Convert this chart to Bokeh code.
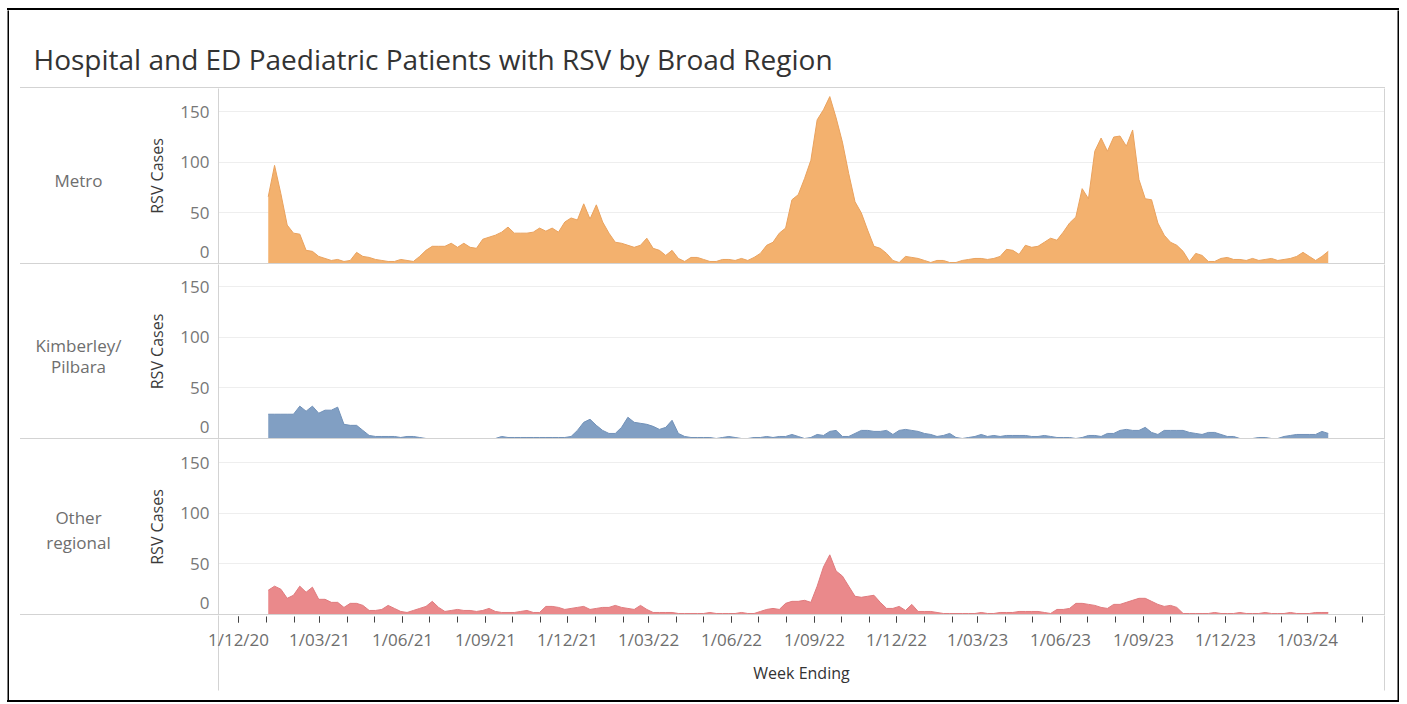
import pandas as pd
from bokeh.plotting import figure
from bokeh.layouts import column, row
from bokeh.models import (Range1d, FixedTicker, DatetimeTickFormatter, Label, LinearAxis,
                          Spacer, Div)
from bokeh.embed import file_html
from bokeh.resources import INLINE

# ---------------- data (weekly RSV cases) ----------------
first_week_ending = "2021-01-03"

metro = [
    66, 97, 69, 38, 30, 29, 13, 12, 7, 5,
    3, 4, 2, 3, 11, 7, 6, 4, 3, 2,
    2, 4, 3, 2, 7, 13, 17, 17, 17, 20,
    16, 20, 16, 15, 24, 26, 28, 31, 36, 30,
    30, 30, 31, 35, 32, 35, 31, 41, 45, 43,
    59, 44, 58, 41, 30, 21, 20, 18, 16, 18,
    25, 15, 13, 8, 13, 5, 2, 6, 6, 4,
    2, 2, 4, 4, 3, 5, 3, 6, 10, 18,
    21, 30, 35, 63, 68, 84, 102, 142, 152, 165,
    144, 120, 89, 61, 50, 33, 17, 15, 10, 3,
    1, 7, 6, 5, 3, 1, 3, 3, 1, 1,
    3, 4, 5, 5, 4, 5, 7, 14, 13, 9,
    18, 16, 17, 21, 25, 23, 31, 40, 46, 74,
    64, 111, 124, 111, 125, 126, 116, 132, 83, 64,
    63, 40, 28, 21, 18, 12, 2, 10, 8, 2,
    2, 5, 6, 4, 4, 3, 5, 3, 4, 5,
    3, 4, 5, 7, 11, 7, 3, 7, 12,
]

kimberley_pilbara = [
    24, 24, 24, 24, 24, 32, 27, 32, 25, 28,
    28, 31, 14, 13, 13, 8, 3, 2, 2, 2,
    2, 1, 2, 2, 1, 0, 0, 0, 0, 0,
    0, 0, 0, 0, 0, 0, 0, 2, 1, 1,
    1, 1, 1, 1, 1, 1, 1, 1, 2, 8,
    16, 19, 13, 8, 5, 5, 11, 21, 16, 15,
    14, 12, 9, 11, 18, 5, 2, 1, 1, 1,
    1, 0, 1, 2, 1, 0, 0, 1, 1, 2,
    1, 2, 2, 4, 2, 0, 1, 4, 3, 7,
    8, 2, 2, 5, 8, 8, 7, 7, 8, 4,
    8, 9, 8, 7, 5, 4, 2, 3, 5, 1,
    0, 1, 2, 4, 2, 3, 2, 3, 3, 3,
    3, 2, 2, 3, 2, 1, 1, 1, 0, 1,
    3, 3, 2, 5, 5, 8, 9, 8, 8, 11,
    6, 4, 8, 8, 8, 8, 6, 5, 4, 6,
    6, 4, 2, 2, 0, 0, 0, 1, 1, 0,
    0, 2, 3, 4, 4, 4, 4, 7, 5,
]

other_regional = [
    24, 28, 25, 16, 19, 28, 22, 27, 15, 15,
    12, 12, 7, 11, 11, 9, 4, 4, 5, 9,
    6, 3, 2, 4, 6, 8, 13, 7, 3, 4,
    5, 4, 4, 3, 4, 6, 3, 2, 2, 2,
    3, 4, 2, 2, 8, 8, 7, 5, 6, 7,
    8, 5, 6, 7, 7, 9, 7, 6, 5, 9,
    5, 2, 2, 2, 2, 1, 1, 1, 1, 1,
    2, 1, 1, 1, 1, 2, 1, 1, 3, 5,
    6, 5, 11, 13, 13, 14, 12, 28, 47, 59,
    43, 38, 28, 18, 17, 18, 19, 12, 6, 6,
    8, 4, 10, 3, 3, 3, 2, 1, 1, 1,
    1, 1, 1, 2, 1, 1, 2, 2, 2, 3,
    3, 3, 3, 2, 1, 5, 5, 6, 11, 11,
    10, 9, 7, 6, 10, 10, 12, 14, 16, 16,
    13, 10, 8, 9, 7, 1, 1, 1, 1, 1,
    2, 1, 1, 1, 2, 1, 1, 1, 2, 1,
    1, 1, 2, 1, 1, 1, 2, 2, 2,
]

series = [metro, kimberley_pilbara, other_regional]
region_names = [["Metro"], ["Kimberley/", "Pilbara"], ["Other", "regional"]]
region_fill = ["#F3B16E", "#819FC3", "#EA898B"]
region_edge = ["#E9A25E", "#7191B8", "#E07B7E"]
y_ticks = [0, 50, 100, 150]
y_tick_labels = ["0", "50", "100", "150"]
quarter_ticks = ["2020-12-01", "2021-03-01", "2021-06-01", "2021-09-01", "2021-12-01",
                 "2022-03-01", "2022-06-01", "2022-09-01", "2022-12-01", "2023-03-01",
                 "2023-06-01", "2023-09-01", "2023-12-01", "2024-03-01"]
month_ticks = list(pd.date_range("2020-12-01", "2024-05-01", freq="MS"))
title_text = "Hospital and ED Paediatric Patients with RSV by Broad Region"
x_title = "Week Ending"
y_title = "RSV Cases"

weeks = pd.date_range(first_week_ending, periods=len(metro), freq="7D")

# ---------------- layout constants (page pixels) ----------------
FONT = "Open Sans"
GREY = "#d3d3d3"
CONTENT_W = 1388          # page x 9 .. 1397
HEADER_W = 131            # page x 9 .. 140
PANEL_W = CONTENT_W - HEADER_W
PANEL_LEFT = 78           # frame left at page x 218
PANEL_RIGHT = 13          # frame right at page x 1384
PX_PER_UNIT = 175 / 173
ROW_H = [175, 174, 175]
ROW_TOP = [88, 264, 439]
LABEL_Y = [[180], [345, 366], [517, 542]]
LABEL_X = 78
ZERO_LABEL_SHIFT = 11     # Tableau lifts the "0" label just above the pane border
X_START = pd.Timestamp("2020-11-08 19:30")
X_END = pd.Timestamp("2024-05-25 10:00")


def ms(t):
    return pd.Timestamp(t).value / 1e6


def no_align(f):
    if "frame_align" in f.properties():
        f.frame_align = False
    return f


def strip(w, h, color):
    return Div(text="", width=w, height=h, margin=(0, 0, 0, 0),
               styles={"background-color": color})


def bar(w, h, color):
    f = figure(width=w, height=h, x_range=Range1d(0, 1), y_range=Range1d(0, 1),
               x_axis_location=None, y_axis_location=None, min_border=0,
               toolbar_location=None, output_backend="svg",
               background_fill_color=color, border_fill_color=color,
               outline_line_color=None)
    f.grid.visible = False
    return no_align(f)


def pixel_fig(w, h):
    f = figure(width=w, height=h, x_range=Range1d(0, w), y_range=Range1d(0, h),
               x_axis_location=None, y_axis_location=None, min_border=0,
               toolbar_location=None, output_backend="svg",
               background_fill_color="white", border_fill_color="white",
               outline_line_color=None)
    f.grid.visible = False
    return no_align(f)


# ---------------- title (frame geometry identical to the x-axis strip) ----------------
p0 = figure(width=CONTENT_W, height=77, x_range=Range1d(0, 1), y_range=Range1d(0, 1),
            x_axis_location=None, y_axis_location=None,
            min_border_left=PANEL_LEFT + HEADER_W, min_border_right=PANEL_RIGHT,
            min_border_top=72, min_border_bottom=0,
            toolbar_location=None, output_backend="svg",
            background_fill_color="white", border_fill_color="white",
            outline_line_color=None, title=title_text)
p0.grid.visible = False
p0.title.align = "left"
p0.title.offset = 33 - 218
p0.title.standoff = 10
p0.title.text_font = FONT
p0.title.text_font_size = "28px"
p0.title.text_font_style = "normal"
p0.title.text_color = "#333333"
no_align(p0)


def header(k):
    h = pixel_fig(HEADER_W, ROW_H[k])
    for txt, py in zip(region_names[k], LABEL_Y[k]):
        h.add_layout(Label(x=LABEL_X - 9, y=ROW_H[k] - (py - ROW_TOP[k]), text=txt,
                           text_align="center", text_baseline="middle",
                           text_font=FONT, text_font_size="17px", text_color="#6e6e6e"))
    return h


def panel(k):
    h = ROW_H[k]
    p = figure(width=PANEL_W, height=h,
               x_range=Range1d(ms(X_START), ms(X_END)), y_range=Range1d(0, h / PX_PER_UNIT),
               x_axis_type="datetime", x_axis_location=None,
               output_backend="svg", toolbar_location=None,
               min_border_left=PANEL_LEFT, min_border_right=PANEL_RIGHT,
               min_border_top=0, min_border_bottom=0)
    p.varea(x=weeks, y1=0, y2=series[k], fill_color=region_fill[k], fill_alpha=1.0)
    p.line(x=weeks, y=series[k], line_color=region_edge[k], line_width=1)
    p.background_fill_color = "white"
    p.border_fill_color = "white"
    p.outline_line_color = None
    p.xgrid.visible = False
    p.ygrid.ticker = FixedTicker(ticks=[t for t in y_ticks if t > 0])
    p.ygrid.grid_line_color = "#eeeeee"

    ya = p.yaxis[0]
    shown = [ZERO_LABEL_SHIFT if t == 0 else t for t in y_ticks]
    ya.ticker = FixedTicker(ticks=shown)
    ya.major_label_overrides = {s: lab for s, lab in zip(shown, y_tick_labels)}
    ya.axis_line_color = GREY
    ya.major_tick_line_color = None
    ya.minor_tick_line_color = None
    ya.major_tick_out = 0
    ya.major_tick_in = 0
    ya.major_label_standoff = 9
    ya.major_label_text_font = FONT
    ya.major_label_text_font_size = "17px"
    ya.major_label_text_color = "#777777"
    ya.axis_label = y_title
    ya.axis_label_text_font = FONT
    ya.axis_label_text_font_size = "16px"
    ya.axis_label_text_font_style = "normal"
    ya.axis_label_text_color = "#3a3a3a"
    ya.axis_label_standoff = 9

    right = LinearAxis(ticker=FixedTicker(ticks=[]), axis_line_color=GREY,
                       major_tick_line_color=None, minor_tick_line_color=None,
                       major_tick_out=0, major_tick_in=0, major_label_standoff=0)
    p.add_layout(right, "right")
    return no_align(p)


# ---------------- x axis strip ----------------
p4 = figure(width=CONTENT_W, height=85,
            x_range=Range1d(ms(X_START), ms(X_END)), y_range=Range1d(0, 1),
            x_axis_type="datetime", y_axis_location=None,
            output_backend="svg", toolbar_location=None,
            min_border_left=PANEL_LEFT + HEADER_W, min_border_right=PANEL_RIGHT,
            min_border_top=0, min_border_bottom=84,
            background_fill_color="white", border_fill_color="white",
            outline_line_color=None)
p4.grid.visible = False
xa = p4.xaxis[0]
xa.ticker = FixedTicker(ticks=[ms(t) for t in quarter_ticks],
                        minor_ticks=[ms(t) for t in month_ticks])
fmt = "1/%m/%y"
xa.formatter = DatetimeTickFormatter(milliseconds=fmt, seconds=fmt, minsec=fmt, minutes=fmt,
                                     hourmin=fmt, hours=fmt, days=fmt, months=fmt, years=fmt)
xa.axis_line_color = None
xa.major_tick_out = 6
xa.major_tick_in = 0
xa.minor_tick_out = 6
xa.minor_tick_in = 0
xa.major_tick_line_color = "#444444"
xa.minor_tick_line_color = "#444444"
xa.major_label_standoff = 5
xa.major_label_text_font = FONT
xa.major_label_text_font_size = "17px"
xa.major_label_text_color = "#6e6e6e"
xa.axis_label = x_title
xa.axis_label_text_font = FONT
xa.axis_label_text_font_size = "16px"
xa.axis_label_text_font_style = "normal"
xa.axis_label_text_color = "#333333"
xa.axis_label_standoff = 8

# pane borders continuing down through the axis area (long inward ticks, no labels)
pane_edges = [ms(X_START) + 1, ms(X_END) - 1]
borders = LinearAxis(ticker=FixedTicker(ticks=pane_edges),
                     axis_line_color=None, major_tick_in=75, major_tick_out=0,
                     major_tick_line_color=GREY, minor_tick_line_color=None,
                     major_label_standoff=0,
                     major_label_overrides={t: "" for t in pane_edges})
p4.add_layout(borders, "above")
no_align(p4)


def hline():
    return row(Spacer(width=11, height=1), strip(1365, 1, GREY))


content = column(
    p0,
    hline(),
    row(header(0), panel(0)),
    hline(),
    row(header(1), panel(1)),
    hline(),
    row(header(2), panel(2)),
    hline(),
    p4,
)

H = 690
root = column(
    Spacer(width=1, height=8),
    row(Spacer(width=7, height=2), strip(CONTENT_W + 4, 2, "#000000")),
    row(Spacer(width=7, height=H), bar(2, H, "black"), content, bar(2, H, "black")),
    row(Spacer(width=7, height=2), strip(CONTENT_W + 4, 2, "#000000")),
)

open("out.html", "w").write(file_html(root, INLINE))
